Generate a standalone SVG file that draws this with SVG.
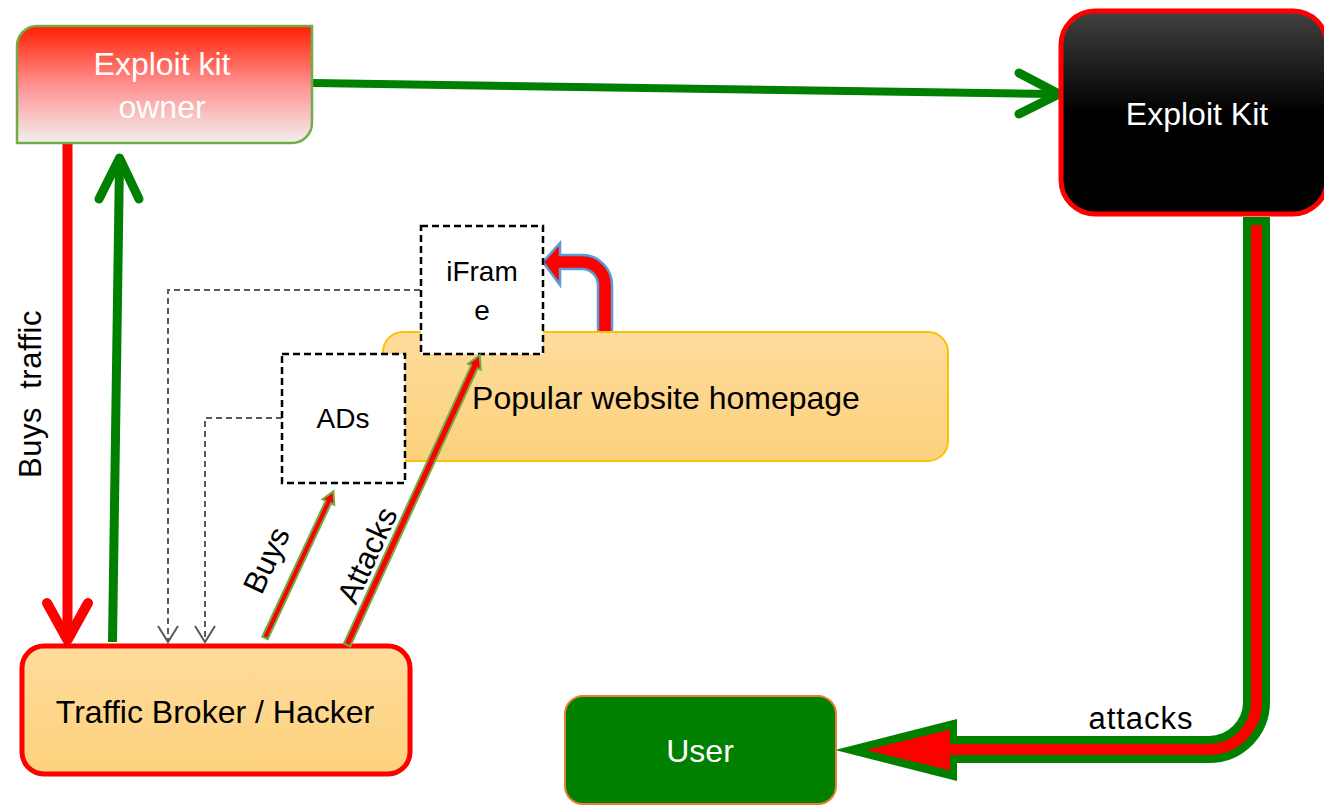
<svg xmlns="http://www.w3.org/2000/svg" width="1324" height="805" viewBox="0 0 1324 805">
<defs>
<linearGradient id="gOwner" x1="0" y1="0" x2="0" y2="1">
<stop offset="0" stop-color="#FF2000"/>
<stop offset="0.5" stop-color="#FF9090"/>
<stop offset="1" stop-color="#F2F0EE"/>
</linearGradient>
<linearGradient id="gKit" x1="0" y1="0" x2="0" y2="1">
<stop offset="0" stop-color="#424242"/>
<stop offset="0.5" stop-color="#000000"/>
<stop offset="1" stop-color="#000000"/>
</linearGradient>
<linearGradient id="gOrange" x1="0" y1="0" x2="0" y2="1">
<stop offset="0" stop-color="#FEDC9C"/>
<stop offset="1" stop-color="#FDD17C"/>
</linearGradient>
</defs>
<style>
text{font-family:"Liberation Sans",Arial,sans-serif;}
.w{fill:#FFFFFF;font-size:32px;text-anchor:middle;}
.b{fill:#000000;font-size:32px;text-anchor:middle;}
.s{fill:#000000;font-size:28px;text-anchor:middle;}
.lbl{fill:#000000;font-size:31px;text-anchor:middle;}
.dash{fill:#FFFFFF;stroke:#000000;stroke-width:2.5;stroke-dasharray:7 4;}
.gline{fill:none;stroke:#5A5A5A;stroke-width:2;stroke-dasharray:6 4;}
.ghead{fill:none;stroke:#5A5A5A;stroke-width:2;}
.blk{fill:#FF0000;stroke:#70AD47;stroke-width:2;stroke-linejoin:miter;}
</style>

<g id="connectors">
<path d="M313,83 L1056,94" stroke="#008000" stroke-width="8" fill="none"/>
<path d="M1019,73 L1059,94 L1019,114" stroke="#008000" stroke-width="9" fill="none" stroke-linecap="round" stroke-linejoin="round"/>
<path d="M67.5,144 L67.5,636" stroke="#FF0000" stroke-width="10" fill="none"/>
<path d="M47,603 L67.5,640 L88,603" stroke="#FF0000" stroke-width="10" fill="none" stroke-linecap="round" stroke-linejoin="round"/>
<path d="M112.5,642 L119.5,162" stroke="#008000" stroke-width="9" fill="none"/>
<path d="M99,199 L119.5,158 L139,199" stroke="#008000" stroke-width="9" fill="none" stroke-linecap="round" stroke-linejoin="round"/>
<path class="gline" d="M420,290 H168 V640"/>
<path class="ghead" d="M158,626 L168,642 L178,626"/>
<path class="gline" d="M282,418 H205 V640"/>
<path class="ghead" d="M195,626 L205,642 L215,626"/>
<path d="M598,333 L612,333 L612,285 A30,30 0 0 0 582,255 L560,255 L560,243 L543,262 L560,285 L560,269 L582,269 A16,16 0 0 1 598,285 Z" fill="#FF0000" stroke="#5B9BD5" stroke-width="2.5"/>
<path d="M1256.5,217 V702 A47.5,47.5 0 0 1 1209,749.5 H955" stroke="#008000" stroke-width="27" fill="none"/>
<polygon points="835,750 957,719 957,781" fill="#008000"/>
<path d="M1256.5,225 V702 A47.5,47.5 0 0 1 1209,749.5 H945" stroke="#FF0000" stroke-width="11" fill="none"/>
<polygon points="866,750 950,729.5 950,770.5" fill="#FF0000"/>
</g>

<g id="label-buys-traffic"><text class="lbl" transform="translate(41,394) rotate(-90)" x="0" y="0" font-size="33" letter-spacing="0.5">Buys&#160; traffic</text></g>
<g id="label-attacks2"><text class="lbl" x="1141" y="729" font-size="32" letter-spacing="1">attacks</text></g>

<g id="node-owner">
<path d="M37,26 H312 V123 A20,20 0 0 1 292,143 H17 V46 A20,20 0 0 1 37,26 Z" fill="url(#gOwner)" stroke="#70AD47" stroke-width="2.5"/>
<text class="w" x="162" y="75">Exploit kit</text>
<text class="w" x="162" y="118">owner</text>
</g>

<g id="node-exploitkit">
<rect x="1061" y="11" width="266" height="203" rx="34" fill="url(#gKit)" stroke="#FF0000" stroke-width="5"/>
<text class="w" x="1197" y="125">Exploit Kit</text>
</g>

<g id="node-popular">
<rect x="383" y="332" width="565" height="129" rx="20" fill="url(#gOrange)" stroke="#FFC000" stroke-width="2"/>
<text class="b" x="666" y="409">Popular website homepage</text>
</g>

<g id="node-iframe">
<rect class="dash" x="421" y="226" width="122" height="128"/>
<text class="s" x="482" y="281">iFram</text>
<text class="s" x="482" y="320">e</text>
</g>

<g id="node-ads">
<rect class="dash" x="282" y="354" width="123" height="129"/>
<text class="s" x="343" y="428">ADs</text>
</g>

<g id="node-broker">
<rect x="22" y="646" width="388" height="128" rx="22" fill="url(#gOrange)" stroke="#FF0000" stroke-width="5"/>
<text class="b" x="215" y="723">Traffic Broker / Hacker</text>
</g>

<g id="node-user">
<rect x="565" y="696" width="271" height="108" rx="18" fill="#008000" stroke="#ED7D31" stroke-width="2"/>
<text class="w" x="700" y="762">User</text>
</g>

<g id="connectors-front">
<polygon class="blk" transform="translate(265,638) rotate(-65.0)" points="0,-3 150,-3 150,-6.5 162,0 150,6.5 150,3 0,3"/>
<polygon class="blk" transform="translate(347,645) rotate(-65.4)" points="0,-3.5 306,-3.5 306,-7 319,0 306,7 306,3.5 0,3.5"/>
</g>
<g id="label-buys"><text class="lbl" transform="translate(266,560) rotate(-65)" x="0" y="11">Buys</text></g>
<g id="label-attacks"><text class="lbl" transform="translate(367,555) rotate(-65.4)" x="0" y="11">Attacks</text></g>
</svg>
